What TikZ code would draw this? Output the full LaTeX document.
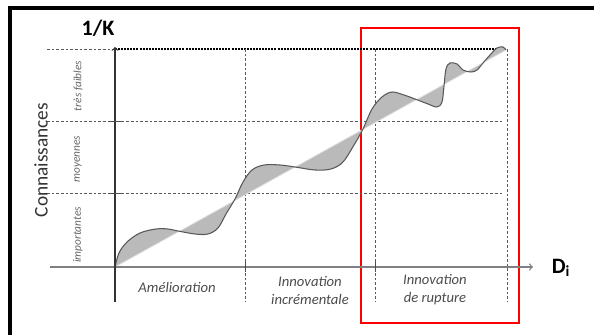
\documentclass[tikz,border=0pt]{standalone}
\usepackage{fontspec}
\setmainfont{Carlito}
\begin{document}
\begin{tikzpicture}[x=0.75pt,y=-0.75pt]
% Styles (MODIFIABLES)
\tikzstyle{axe}=[->,>=to,draw=gray,line width=1pt]
\tikzstyle{axev}=[->,>=to,draw=black!80,line width=0.9pt]
\tikzstyle{grille}=[draw=black!65,line width=0.7pt,dash pattern=on 2pt off 1.5pt]
\tikzstyle{plafond}=[draw=black,line width=1.6pt,dash pattern=on 1.5pt off 0.8pt]
\tikzstyle{graduation}=[draw=black!70,line width=0.6pt]
\tikzstyle{courbe}=[draw=black!65,line width=0.8pt]
\tikzstyle{remplissage}=[fill=black!27]
\tikzstyle{cadre}=[draw=black,line width=3pt]
\tikzstyle{zone}=[draw=red,line width=2pt]
\tikzstyle{titre}=[font=\fontsize{16.5}{18}\selectfont\bfseries,text=black,inner sep=0pt]
\tikzstyle{ordonnee}=[font=\fontsize{14.5}{16}\selectfont,text=black!80,inner sep=0pt]
\tikzstyle{niveau}=[font=\fontsize{8.5}{10}\selectfont\itshape,text=black!60,inner sep=0pt]
\tikzstyle{phase}=[font=\fontsize{11}{13.5}\selectfont\itshape,text=black!70,inner sep=0pt]
% Dimensions (MODIFIABLES)
\def\NiveauAxe{267}
\def\NiveauMoyen{193}
\def\NiveauFaible{121}
\def\NiveauHaut{49}
\def\NiveauBas{302}
\def\ColA{115}
\def\ColB{245}
\def\ColC{375}
\def\ColD{507}
\def\Vague{plot[smooth,tension=0.55] coordinates {(115,267) (119,253) (127,242) (140,233) (156,229) (168,229) (178,231) (195,234) (208,234) (218,228) (226,214) (235,199) (243,182) (252,170) (264,165) (280,165) (295,167) (315,170) (331,169) (343,162) (354,145) (363,129) (372,109) (382,97) (392,92) (404,95) (415,99) (428,104) (437,107) (442,102) (444,86) (446,69) (450,63) (457,64) (463,70) (471,72) (477,70) (483,63) (490,55) (497,48) (503,47) (506,50)}}
\useasboundingbox (0,0) rectangle (594,335);
% Cadre
\draw[cadre] (10,335) -- (10,8.5) -- (594,8.5);
\draw[zone] (361,28) rectangle (519,323);
% Grille
\coordinate (GA) at (47,\NiveauFaible);
\coordinate (GB) at (503,\NiveauFaible);
\coordinate (GC) at (47,\NiveauMoyen);
\coordinate (GD) at (503,\NiveauMoyen);
\coordinate (GE) at (47,\NiveauHaut);
\coordinate (GF) at (\ColA,\NiveauHaut);
\coordinate (GG) at (505,\NiveauHaut);
\draw[grille] (GA)--(GB);
\draw[grille] (GC)--(GD);
\draw[grille] (GE)--(GF);
\draw[plafond] (GF)--(GG);
\foreach \c/\n in {\ColB/b,\ColC/c,\ColD/d}{
  \coordinate (V\n h) at (\c,\NiveauHaut);
  \coordinate (V\n b) at (\c,\NiveauBas);
  \draw[grille] (V\n h)--(V\n b);
}
% Courbe
\coordinate (O) at (\ColA,\NiveauAxe);
\coordinate (Fin) at (506,50);
\fill[remplissage] \Vague -- cycle;
\draw[draw=black!12,line width=0.6pt] (O)--(Fin);
\draw[courbe] \Vague;
% Axes
\coordinate (Xg) at (50,\NiveauAxe);
\coordinate (Xd) at (533,\NiveauAxe);
\coordinate (Yb) at (\ColA,\NiveauBas);
\coordinate (Yh) at (\ColA,47);
\draw[axe] (Xg)--(Xd);
\draw[axev] (Yb)--(Yh);
\foreach \y/\n in {\NiveauFaible/f,\NiveauMoyen/m}{
  \coordinate (T\n g) at (108,\y);
  \coordinate (T\n d) at (122,\y);
  \draw[graduation] (T\n g)--(T\n d);
}
\foreach \x/\n in {\ColB/b,\ColC/c}{
  \coordinate (T\n h) at (\x,262);
  \coordinate (T\n b) at (\x,272);
  \draw[graduation] (T\n h)--(T\n b);
}
% Textes
\node[titre] (K) at (98,28) {1/K};
\node[titre] (D) at (561,268) {D\textsubscript{i}};
\node[ordonnee,rotate=90] (Conn) at (41,160) {Connaissances};
\node[niveau,rotate=90] (TF) at (78,86) {très faibles};
\node[niveau,rotate=90] (Moy) at (78,159) {moyennes};
\node[niveau,rotate=90] (Imp) at (78,235) {importantes};
\node[phase] (Am) at (177,287) {Amélioration};
\node[phase,align=center] (Inc) at (310,290) {Innovation\\incrémentale};
\node[phase,align=center] (Rup) at (435,290) {Innovation\\de rupture};
\end{tikzpicture}
\end{document}
